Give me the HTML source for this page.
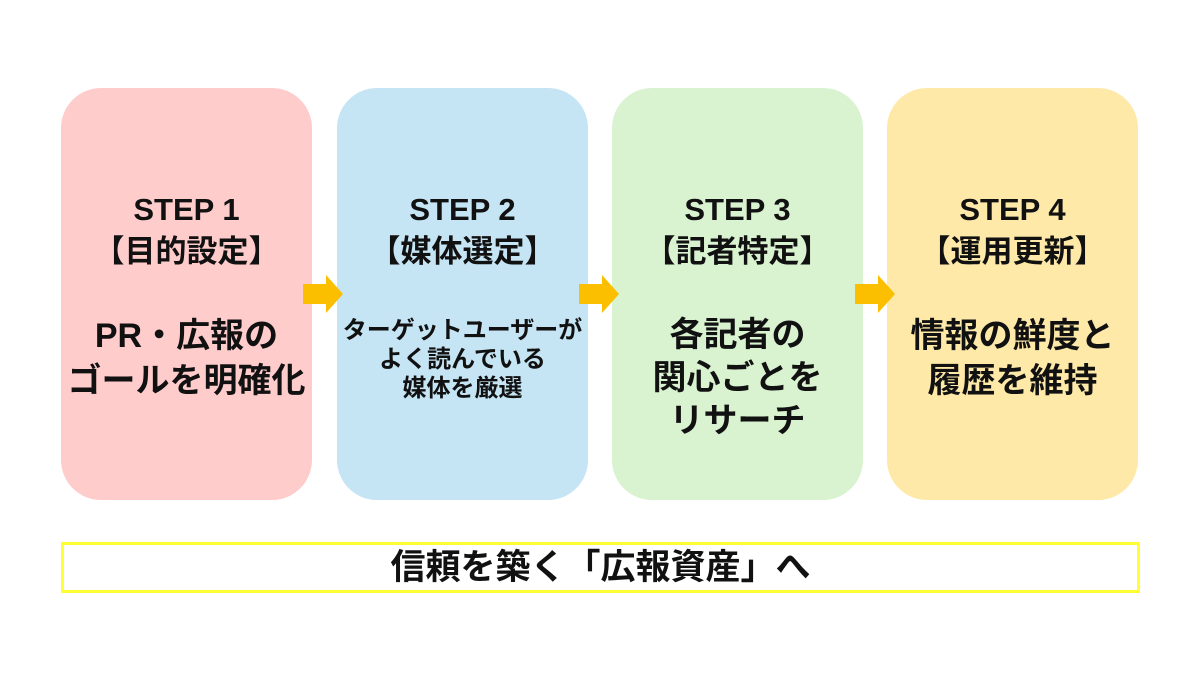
<!DOCTYPE html>
<html><head><meta charset="utf-8"><style>
body{margin:0;width:1200px;height:675px;background:#fff;position:relative;overflow:hidden;font-family:"Liberation Sans","Noto Sans CJK JP",sans-serif;font-weight:bold;color:#111}
.b{position:absolute;top:88px;width:251px;height:412px;border-radius:40px}
.t{position:absolute;left:-30px;right:-30px;text-align:center;white-space:nowrap}
.s{font-size:31px;line-height:42px;top:101px}
.d{font-size:34px;line-height:45px;top:226px}
.d2{font-size:24px;line-height:29px;top:228px}
.a{position:absolute;top:275px;width:40px;height:38px}
.bot{position:absolute;left:61px;top:542px;width:1073px;height:45px;border:3px solid #ffff33;text-align:center;font-size:35px;line-height:45px}
</style></head><body>
<div class="b" style="left:61px;background:#ffcccc"><div class="t s">STEP 1<br>【目的設定】</div><div class="t d">PR・広報の<br>ゴールを明確化</div></div>
<div class="b" style="left:337px;background:#c5e4f4"><div class="t s">STEP 2<br>【媒体選定】</div><div class="t d2">ターゲットユーザーが<br>よく読んでいる<br>媒体を厳選</div></div>
<div class="b" style="left:612px;background:#d9f2d0"><div class="t s">STEP 3<br>【記者特定】</div><div class="t d" style="line-height:43px">各記者の<br>関心ごとを<br>リサーチ</div></div>
<div class="b" style="left:887px;background:#fee9a8"><div class="t s">STEP 4<br>【運用更新】</div><div class="t d">情報の鮮度と<br>履歴を維持</div></div>
<svg class="a" style="left:303px" viewBox="0 0 40 38"><polygon points="0,9 23,9 23,0 40,19 23,38 23,29 0,29" fill="#fbbf00"/></svg>
<svg class="a" style="left:579px" viewBox="0 0 40 38"><polygon points="0,9 23,9 23,0 40,19 23,38 23,29 0,29" fill="#fbbf00"/></svg>
<svg class="a" style="left:855px" viewBox="0 0 40 38"><polygon points="0,9 23,9 23,0 40,19 23,38 23,29 0,29" fill="#fbbf00"/></svg>
<div class="bot">信頼を築く「広報資産」へ</div>
</body></html>
